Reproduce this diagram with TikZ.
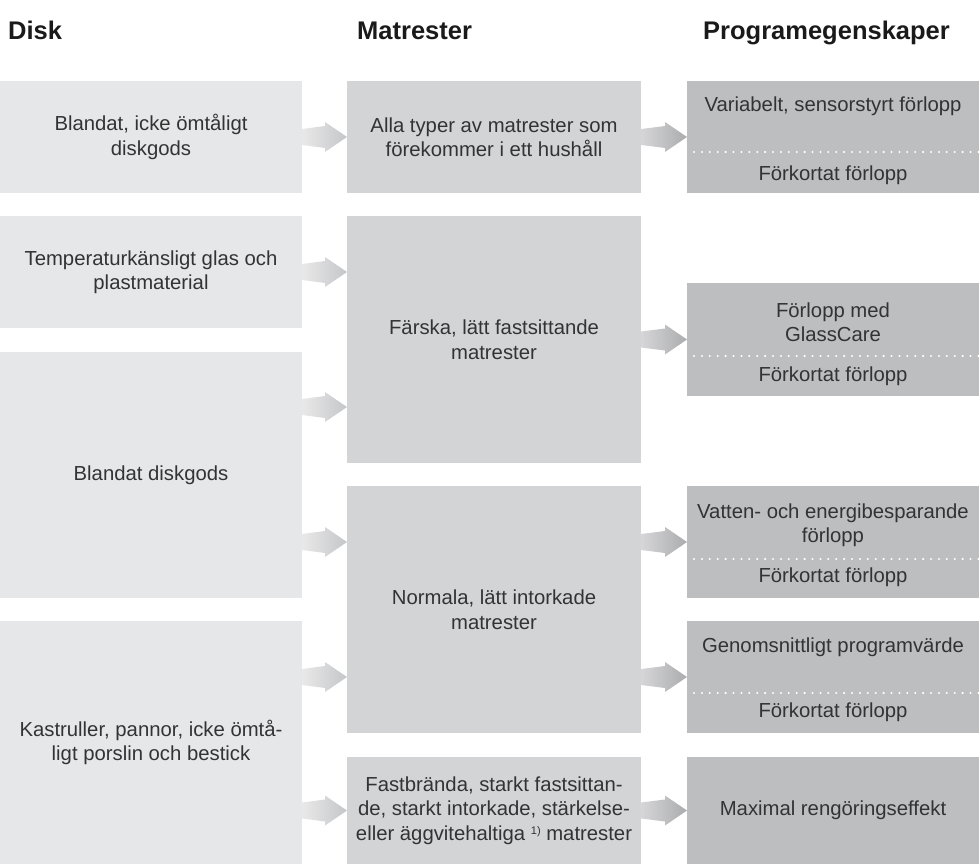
\documentclass[tikz,border=0pt]{standalone}
\usepackage{fontspec}
\setmainfont{Liberation Sans}
\usetikzlibrary{calc}
\definecolor{cone}{HTML}{E6E7E8}
\definecolor{ctwo}{HTML}{D3D4D6}
\definecolor{cthree}{HTML}{BDBEC0}
\definecolor{txt}{HTML}{333333}
\definecolor{hdr}{HTML}{1A1A1A}
\definecolor{aoneL}{HTML}{E9E9EA}
\definecolor{aoneR}{HTML}{C5C6C8}
\definecolor{atwoL}{HTML}{D6D6D8}
\definecolor{atwoR}{HTML}{ABACAE}
\tikzset{
  cell/.style={rectangle, inner sep=0pt, outer sep=0pt, align=center, text=txt, font=\fontsize{20.3}{24.5}\selectfont},
  colone/.style={cell, fill=cone, minimum width=302pt},
  coltwo/.style={cell, fill=ctwo, minimum width=294pt},
  colthree/.style={cell, fill=cthree, minimum width=292pt},
  linetext/.style={inner sep=0pt, text=txt, font=\fontsize{20.3}{24.5}\selectfont, anchor=base},
  header/.style={inner sep=0pt, anchor=base west, text=hdr, font=\fontsize{25.5}{30}\selectfont\bfseries},
  dotline/.style={draw=white, line width=2.3pt, line cap=round, dash pattern=on 0pt off 7.9pt},
}
% #1 start, #2 end, #3 left colour, #4 right colour
\newcommand\garrow[4]{%
  \shade[left color=#3,right color=#4] let \p1=(#1),\p2=(#2) in
    (\x1,\y1-8pt) -- (\x2-22pt,\y1-11pt) -- (\x2-22pt,\y1-15pt) -- (\x2,\y1)
    -- (\x2-22pt,\y1+15pt) -- (\x2-22pt,\y1+11pt) -- (\x1,\y1+8pt) -- cycle;}
\begin{document}
\begin{tikzpicture}[x=1pt,y=-1pt]
\useasboundingbox (0,0) rectangle (979,864);
% headers
\node[header] (h1) at (8,40) {Disk};
\node[header] (h2) at (357,40) {Matrester};
\node[header] (h3) at (703,40) {Programegenskaper};
% column 1
\node[colone, minimum height=112pt] (A) at (151,137) {Blandat, icke ömtåligt\\diskgods};
\node[colone, minimum height=112pt] (B) at (151,272) {Temperaturkänsligt glas och\\plastmaterial};
\node[colone, minimum height=246pt] (C) at (151,475) {Blandat diskgods};
\node[colone, minimum height=243pt] (D) at (151,742.5) {Kastruller, pannor, icke ömtå-\\ligt porslin och bestick};
% column 2
\node[coltwo, minimum height=112pt] (E) at (494,137) {Alla typer av matrester som\\förekommer i ett hushåll};
\node[coltwo, minimum height=247pt] (F) at (494,339.5) {Färska, lätt fastsittande\\matrester};
\node[coltwo, minimum height=247pt] (G) at (494,609.5) {Normala, lätt intorkade\\matrester};
\node[coltwo, minimum height=107pt] (H) at (494,810.5) {Fastbrända, starkt fastsittan-\\de, starkt intorkade, stärkelse-\\eller äggvitehaltiga {\fontsize{11}{11}\selectfont\raisebox{6pt}{1)}} matrester};
% column 3
\node[colthree, minimum height=112pt] (I) at (833,137) {};
\node[colthree, minimum height=113pt] (J) at (833,339.5) {};
\node[colthree, minimum height=112pt] (K) at (833,542) {};
\node[colthree, minimum height=112pt] (L) at (833,677) {};
\node[colthree, minimum height=107pt] (M) at (833,810.5) {Maximal rengöringseffekt};
\node[linetext] (I1) at (833,112) {Variabelt, sensorstyrt förlopp};
\node[linetext] (I2) at (833,180) {Förkortat förlopp};
\node[linetext] (J1) at (833,317) {Förlopp med};
\node[linetext] (J2) at (833,341) {GlassCare};
\node[linetext] (J3) at (833,381) {Förkortat förlopp};
\node[linetext] (K1) at (833,518) {Vatten- och energibesparande};
\node[linetext] (K2) at (833,542) {förlopp};
\node[linetext] (K3) at (833,582) {Förkortat förlopp};
\node[linetext] (L1) at (833,652) {Genomsnittligt programvärde};
\node[linetext] (L2) at (833,717) {Förkortat förlopp};
% dotted separators
\coordinate (dI) at (694,152);
\coordinate (dJ) at (694,356);
\coordinate (dK) at (694,559);
\coordinate (dL) at (694,693);
\draw[dotline] (dI) -- (dI -| I.east);
\draw[dotline] (dJ) -- (dJ -| J.east);
\draw[dotline] (dK) -- (dK -| K.east);
\draw[dotline] (dL) -- (dL -| L.east);
% arrows column 1 -> column 2
\coordinate (sCF) at (C.east |- 0,407);
\coordinate (sCG) at (C.east |- K.center);
\coordinate (sDG) at (D.east |- L.center);
\coordinate (sDH) at (D.east |- H.center);
\garrow{A.east}{E.west}{aoneL}{aoneR}
\garrow{B.east}{F.west}{aoneL}{aoneR}
\garrow{sCF}{F.west}{aoneL}{aoneR}
\garrow{sCG}{G.west}{aoneL}{aoneR}
\garrow{sDG}{G.west}{aoneL}{aoneR}
\garrow{sDH}{H.west}{aoneL}{aoneR}
% arrows column 2 -> column 3
\coordinate (sGK) at (G.east |- K.center);
\coordinate (sGL) at (G.east |- L.center);
\garrow{E.east}{I.west}{atwoL}{atwoR}
\garrow{F.east}{J.west}{atwoL}{atwoR}
\garrow{sGK}{K.west}{atwoL}{atwoR}
\garrow{sGL}{L.west}{atwoL}{atwoR}
\garrow{H.east}{M.west}{atwoL}{atwoR}
\end{tikzpicture}
\end{document}
